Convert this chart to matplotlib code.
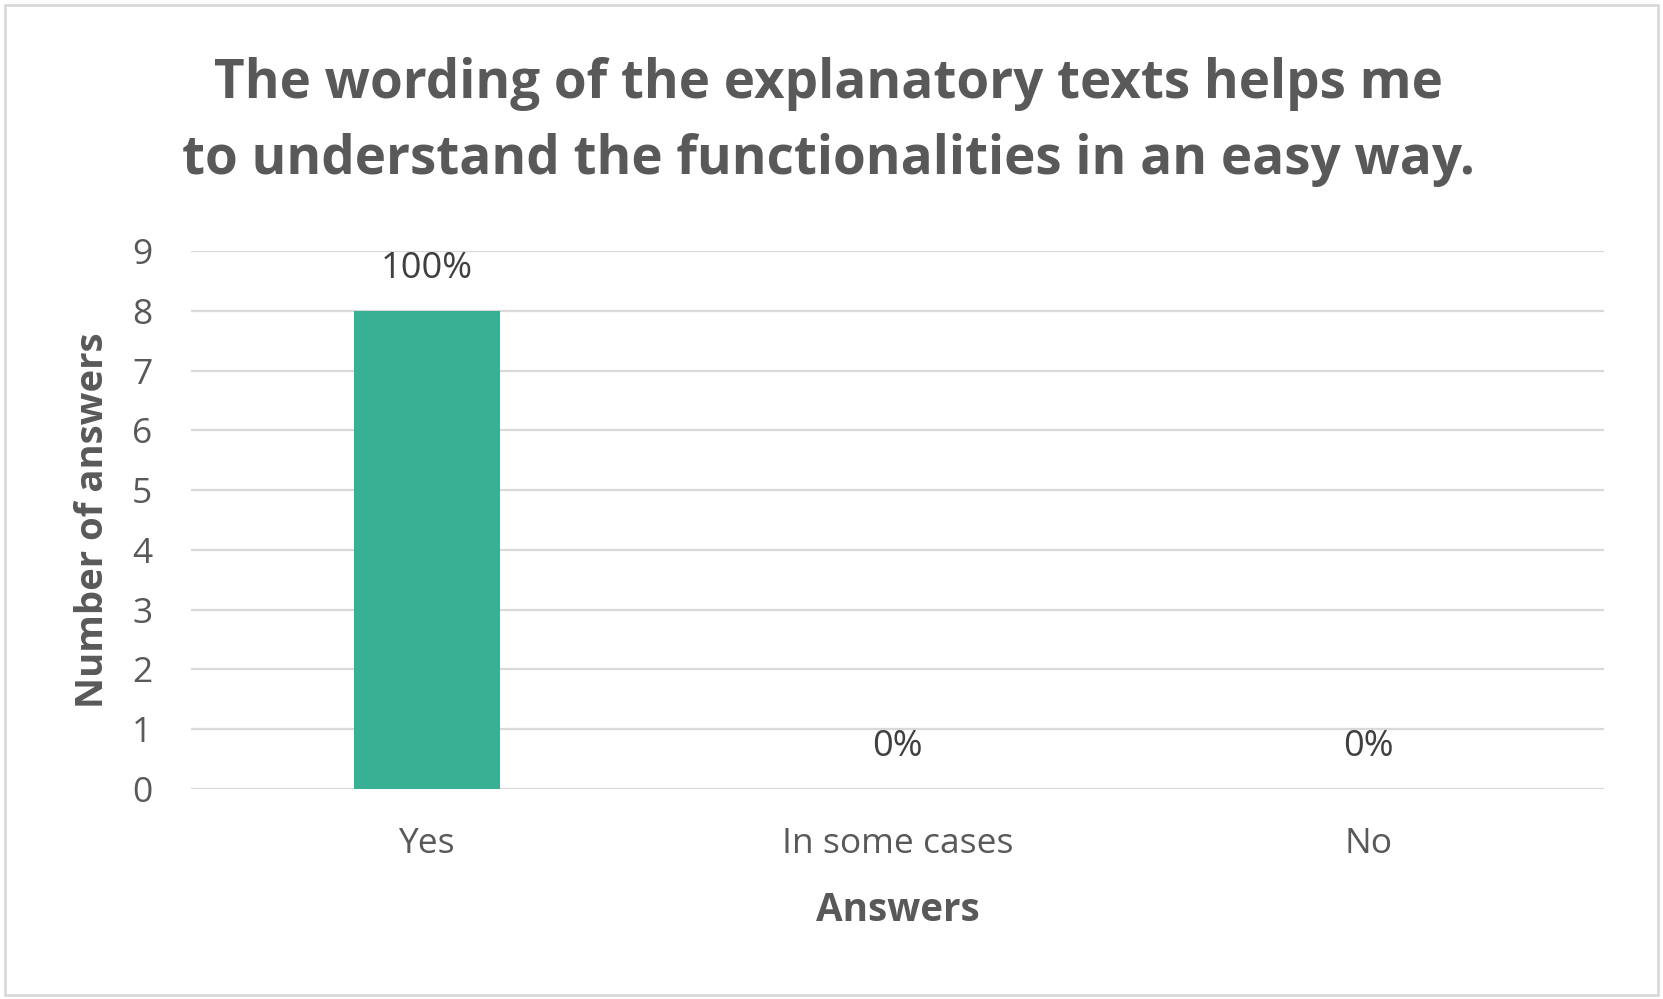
import matplotlib.pyplot as plt
from matplotlib.patches import Rectangle

categories = ["Yes", "In some cases", "No"]
counts = [8, 0, 0]
percent_labels = ["100%", "0%", "0%"]
y_ticks = list(range(0, 10))

title = "The wording of the explanatory texts helps me\nto understand the functionalities in an easy way."

plt.rcParams["font.family"] = ["Open Sans", "DejaVu Sans"]

fig = plt.figure(figsize=(16.63, 9.99), dpi=100)
ax = fig.add_axes([0.1149, 0.2102, 0.8496, 0.5385])

x = range(len(categories))
ax.bar(x, counts, width=0.31, color="#38b094", zorder=3)

# percentage labels above each bar
for xi, c, lab in zip(x, counts, percent_labels):
    ax.annotate(lab, (xi, c), xytext=(0, 30), textcoords="offset points",
                ha="center", va="center", fontsize=26, color="#404040")

ax.set_xlim(-0.5, 2.5)
ax.set_ylim(0, 9)
ax.set_yticks(y_ticks)
ax.set_xticks(list(x))
ax.set_xticklabels(categories)
ax.tick_params(axis="both", length=0, labelsize=25.5, labelcolor="#595959")
ax.tick_params(axis="y", pad=28)
ax.tick_params(axis="x", pad=27)
ax.grid(axis="y", color="#d9d9d9", linewidth=1.6, zorder=0)
for s in ax.spines.values():
    s.set_visible(False)

ax.set_ylabel("Number of answers", fontsize=27.5, fontweight="bold", color="#595959", labelpad=14)
ax.set_xlabel("Answers", fontsize=27.8, fontweight="bold", color="#595959", labelpad=22)

fig.text(0.498, 0.878, title, ha="center", va="center", fontsize=38.2,
         fontweight="bold", color="#595959", linespacing=1.52)

# light border around the chart area
fig.patches.append(Rectangle((0.003, 0.004), 0.994, 0.991, transform=fig.transFigure,
                             fill=False, edgecolor="#d9d9d9", linewidth=2))

fig.savefig("out.png", dpi=100)
